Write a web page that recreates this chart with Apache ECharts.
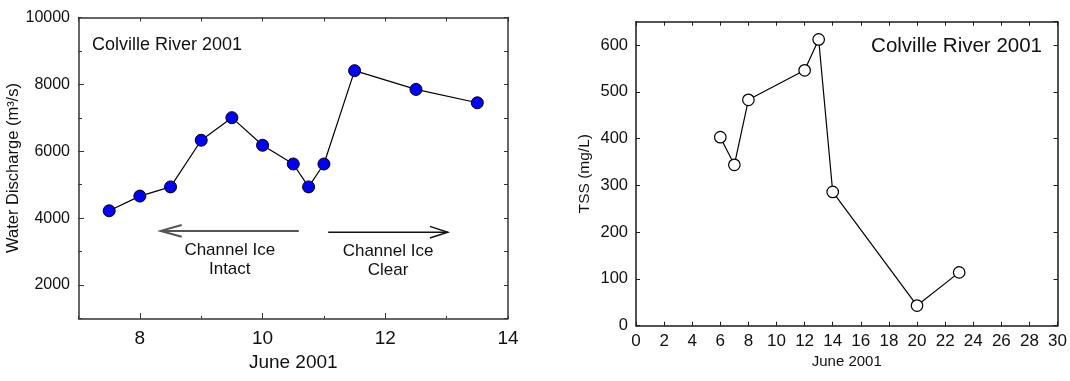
<!DOCTYPE html>
<html>
<head>
<meta charset="utf-8">
<script src="https://cdn.jsdelivr.net/npm/echarts@6/dist/echarts.min.js"></script>
<style>
  html, body { margin: 0; padding: 0; background: #fff; }
  #chart { width: 1070px; height: 381px; }
</style>
</head>
<body>
<div id="chart"></div>
<script>
// Colville River 2001: water discharge (left) and total suspended solids (right)

// Left panel: discharge, day of June 2001 vs m^3/s
const dischargeDays = [7.5, 8, 8.5, 9, 9.5, 10, 10.5, 10.75, 11, 11.5, 12.5, 13.5];
const dischargeValues = [4220, 4660, 4935, 6330, 7005, 6180, 5620, 4935, 5620, 8410, 7850, 7450];

// Channel ice annotations: [from day, to day, level]
const iceArrows = [
  [10.59, 8.34, 3620],
  [11.07, 13.02, 3580]
];
const iceLabels = ['Channel Ice\nIntact', 'Channel Ice\nClear'];

// Right panel: TSS, day of June 2001 vs mg/L
const tssDays = [6, 7, 8, 12, 13, 14, 20, 23];
const tssValues = [403, 344, 483, 546, 612, 286, 43, 114];

const titleText = 'Colville River 2001';
const xTitle = 'June 2001';
const dischargeTitle = 'Water Discharge (m³/s)';
const tssTitle = 'TSS (mg/L)';

// Major (labelled) tick positions on the discharge panel
const dayMajorTicks = [8, 10, 12];
const dischargeMajorTicks = [2000, 4000, 6000, 8000];

const FONT = '"Liberation Sans", Arial, Helvetica, sans-serif';
const INK = '#111';

function pairs(xs, ys) { return xs.map((x, i) => [x, ys[i]]); }

function frameAxis(extra, color) {
  return Object.assign({
    type: 'value',
    axisLine: { show: true, onZero: false, lineStyle: { color: color || '#333', width: 1.5 } },
    axisTick: { show: true, inside: true, length: 4, lineStyle: { color: color || '#333', width: 1 } },
    splitLine: { show: false },
    axisLabel: { show: false }
  }, extra);
}

// Extra tick-only axis laid over a frame edge (longer ticks at labelled values)
function majorTickAxis(extra, values) {
  return Object.assign({
    type: 'value',
    axisLine: { show: false },
    axisTick: { show: true, inside: true, length: 5.5, customValues: values, lineStyle: { color: '#333', width: 1 } },
    splitLine: { show: false },
    axisLabel: { show: false }
  }, extra);
}

const chart = echarts.init(document.getElementById('chart'), null, { renderer: 'canvas' });

chart.setOption({
  animation: false,
  backgroundColor: '#fff',
  textStyle: { fontFamily: FONT, color: INK },
  title: [
    { text: titleText, left: 87, top: 31, textStyle: { fontFamily: FONT, fontSize: 18, fontWeight: 'normal', color: INK } },
    { text: titleText, right: 23, top: 31, textStyle: { fontFamily: FONT, fontSize: 20.5, fontWeight: 'normal', color: INK } }
  ],
  grid: [
    { left: 78.5, top: 17.5, width: 429.5, height: 301 },
    { left: 636, top: 21.7, width: 423, height: 304 }
  ],
  xAxis: [
    frameAxis({
      gridIndex: 0, position: 'bottom', min: 7, max: 14, interval: 1,
      axisTick: { show: true, inside: true, length: 2.5, lineStyle: { color: '#333', width: 1 } },
      axisLabel: {
        show: true, margin: 11, fontSize: 19, color: INK, fontFamily: FONT,
        formatter: v => (v % 2 === 0 ? String(v) : '')
      },
      name: xTitle, nameLocation: 'middle', nameGap: 34,
      nameTextStyle: { fontSize: 19, color: INK, fontFamily: FONT }
    }),
    frameAxis({ gridIndex: 0, position: 'top', min: 7, max: 14, interval: 1 }),
    majorTickAxis({ gridIndex: 0, position: 'bottom', min: 7, max: 14, interval: 1 }, dayMajorTicks),
    frameAxis({
      gridIndex: 1, position: 'bottom', min: 0, max: 30, interval: 2,
      axisLabel: { show: true, margin: 7, fontSize: 17, color: INK, fontFamily: FONT },
      name: xTitle, nameLocation: 'middle', nameGap: 29,
      nameTextStyle: { fontSize: 15, color: INK, fontFamily: FONT }
    }, '#1a1a1a'),
    frameAxis({ gridIndex: 1, position: 'top', min: 0, max: 30, interval: 2 }, '#1a1a1a')
  ],
  yAxis: [
    frameAxis({
      gridIndex: 0, position: 'left', min: 1000, max: 10000, interval: 1000,
      axisTick: { show: true, inside: true, length: 3.5, lineStyle: { color: '#333', width: 1 } },
      axisLabel: {
        show: true, margin: 8.5, fontSize: 16, color: INK, fontFamily: FONT,
        formatter: v => (v % 2000 === 0 ? String(v) : '')
      },
      name: dischargeTitle, nameLocation: 'middle', nameGap: 47, nameRotate: 90,
      nameTextStyle: { fontSize: 16.5, color: INK, fontFamily: FONT }
    }),
    frameAxis({ gridIndex: 0, position: 'right', min: 1000, max: 10000, interval: 1000 }),
    majorTickAxis({ gridIndex: 0, position: 'left', min: 1000, max: 10000, interval: 1000 }, dischargeMajorTicks),
    frameAxis({
      gridIndex: 1, position: 'left', min: 0, max: 650, interval: 100,
      axisLabel: { show: true, margin: 8, fontSize: 16.5, color: INK, fontFamily: FONT, showMaxLabel: false },
      name: tssTitle, nameLocation: 'middle', nameGap: 43, nameRotate: 90,
      nameTextStyle: { fontSize: 15.5, color: INK, fontFamily: FONT }
    }, '#1a1a1a'),
    frameAxis({ gridIndex: 1, position: 'right', min: 0, max: 650, interval: 100 }, '#1a1a1a')
  ],
  series: [
    {
      type: 'line', xAxisIndex: 0, yAxisIndex: 0,
      data: pairs(dischargeDays, dischargeValues),
      symbol: 'circle', symbolSize: 12,
      lineStyle: { color: '#000', width: 1.2 },
      itemStyle: { color: '#0000ff', borderColor: '#000', borderWidth: 1 },
      z: 5
    },
    {
      type: 'custom', xAxisIndex: 0, yAxisIndex: 0,
      data: iceArrows.map((a, i) => [a[0], a[1], a[2], i]),
      renderItem: function (params, api) {
        const p0 = api.coord([api.value(0), api.value(2)]);
        const p1 = api.coord([api.value(1), api.value(2)]);
        const idx = api.value(3);
        const dir = p1[0] > p0[0] ? 1 : -1;
        const headLen = idx === 0 ? 21 : 18;
        const headHalf = 5.8;
        const color = idx === 0 ? '#555' : '#111';
        const width = idx === 0 ? 2 : 1.4;
        return {
          type: 'group',
          children: [
            { type: 'line', shape: { x1: p0[0], y1: p0[1], x2: p1[0], y2: p1[1] },
              style: { stroke: color, lineWidth: width } },
            { type: 'polyline',
              shape: { points: [[p1[0] - dir * headLen, p1[1] - headHalf], [p1[0], p1[1]], [p1[0] - dir * headLen, p1[1] + headHalf]] },
              style: { stroke: color, lineWidth: width, fill: null } },
            { type: 'text',
              style: {
                x: (p0[0] + p1[0]) / 2, y: p0[1] + 10,
                text: iceLabels[idx], align: 'center', verticalAlign: 'top',
                fontSize: 17, lineHeight: 19, fontFamily: FONT, fill: INK
              } }
          ]
        };
      },
      silent: true,
      z: 3
    },
    {
      type: 'line', xAxisIndex: 3, yAxisIndex: 3,
      data: pairs(tssDays, tssValues),
      symbol: 'circle', symbolSize: 11.5,
      lineStyle: { color: '#000', width: 1.2 },
      itemStyle: { color: '#fff', borderColor: '#000', borderWidth: 1.2 },
      z: 5
    }
  ]
});
</script>
</body>
</html>
